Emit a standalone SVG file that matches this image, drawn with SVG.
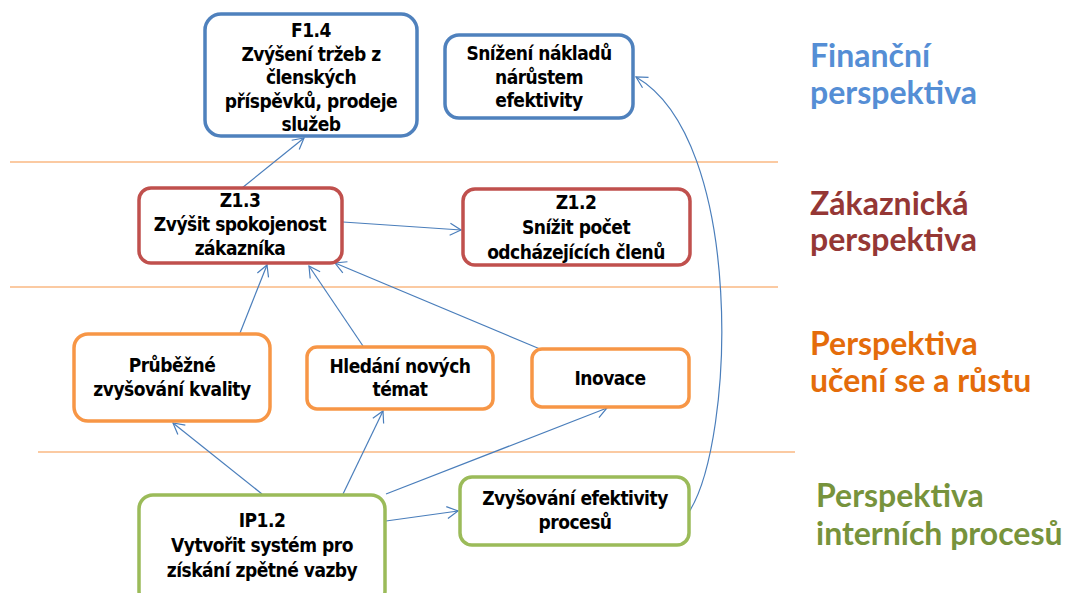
<svg xmlns="http://www.w3.org/2000/svg" width="1072" height="593" viewBox="0 0 1072 593">
  <defs>
    <style>
      .box { fill: #ffffff; stroke-width: 3.5; }
      .fin { stroke: #4f81bd; }
      .cus { stroke: #c0504d; }
      .lrn { stroke: #f79646; }
      .int { stroke: #9bbb59; }
      .t { font-family: "Liberation Sans Narrow", "DejaVu Sans Condensed", "Liberation Sans", sans-serif; font-weight: bold; font-size: 19px; letter-spacing: -0.5px; fill: #000000; text-anchor: middle; }
      .sep { stroke: #f79646; stroke-width: 1.2; }
      .edge { fill: none; stroke: #4a7ebb; stroke-width: 1.2; marker-end: url(#arr); }
      .lbl { font-family: Lato, "Open Sans", sans-serif; font-weight: bold; font-size: 32px; }
    </style>
    <marker id="arr" markerUnits="userSpaceOnUse" markerWidth="14" markerHeight="14" viewBox="0 0 14 14" refX="12" refY="7" orient="auto">
      <path d="M1,1 L12,7 L1,13" fill="none" stroke="#4a7ebb" stroke-width="1.2"/>
    </marker>
  </defs>

  <!-- perspective separators -->
  <g id="separators">
    <line class="sep" x1="10" y1="162" x2="778" y2="162"/>
    <line class="sep" x1="10" y1="287" x2="778" y2="287"/>
    <line class="sep" x1="38" y1="452" x2="795" y2="452"/>
  </g>

  <!-- perspective titles -->
  <g id="titles" class="lbl">
    <text x="810" y="67" fill="#558ed5">Finanční</text>
    <text x="810" y="104" fill="#558ed5">perspektiva</text>
    <text x="810" y="215" fill="#953735">Zákaznická</text>
    <text x="810" y="251" fill="#953735">perspektiva</text>
    <text x="810" y="355" fill="#e46c0a">Perspektiva</text>
    <text x="810" y="392" fill="#e46c0a">učení se a růstu</text>
    <text x="816" y="507" fill="#77933c">Perspektiva</text>
    <text x="816" y="545" fill="#77933c">interních procesů</text>
  </g>

  <!-- connectors -->
  <g id="connectors">
    <line class="edge" x1="242" y1="188" x2="304" y2="138"/>
    <line class="edge" x1="343" y1="222" x2="461" y2="230"/>
    <line class="edge" x1="240" y1="333" x2="267" y2="265"/>
    <line class="edge" x1="363" y1="346" x2="309" y2="266"/>
    <line class="edge" x1="540" y1="349" x2="335" y2="263"/>
    <line class="edge" x1="262" y1="494" x2="173" y2="423"/>
    <line class="edge" x1="343" y1="494" x2="383" y2="411"/>
    <line class="edge" x1="386" y1="494" x2="607" y2="408"/>
    <line class="edge" x1="386" y1="521" x2="458" y2="511"/>
    <path class="edge" d="M689,512 C735,440 745,140 636,77"/>
  </g>

  <!-- financial perspective -->
  <g id="f14">
    <rect class="box fin" x="205" y="14" width="212" height="122" rx="16"/>
    <text class="t" x="311" y="37">F1.4</text>
    <text class="t" x="311" y="61">Zvýšení tržeb z</text>
    <text class="t" x="311" y="84">členských</text>
    <text class="t" x="311" y="108">příspěvků, prodeje</text>
    <text class="t" x="311" y="131">služeb</text>
  </g>
  <g id="snizeni-nakladu">
    <rect class="box fin" x="445" y="35" width="188" height="83" rx="14"/>
    <text class="t" x="539" y="60">Snížení nákladů</text>
    <text class="t" x="539" y="84">nárůstem</text>
    <text class="t" x="539" y="107">efektivity</text>
  </g>

  <!-- customer perspective -->
  <g id="z13">
    <rect class="box cus" x="139" y="188" width="203" height="75" rx="12"/>
    <text class="t" x="240" y="207">Z1.3</text>
    <text class="t" x="240" y="231">Zvýšit spokojenost</text>
    <text class="t" x="240" y="255">zákazníka</text>
  </g>
  <g id="z12">
    <rect class="box cus" x="463" y="189" width="227" height="76" rx="12"/>
    <text class="t" x="576" y="209">Z1.2</text>
    <text class="t" x="576" y="234">Snížit počet</text>
    <text class="t" x="576" y="259">odcházejících členů</text>
  </g>

  <!-- learning and growth perspective -->
  <g id="prubezne">
    <rect class="box lrn" x="74" y="334" width="196" height="87" rx="14"/>
    <text class="t" x="172" y="372">Průběžné</text>
    <text class="t" x="172" y="396">zvyšování kvality</text>
  </g>
  <g id="hledani">
    <rect class="box lrn" x="307" y="347" width="186" height="62" rx="10"/>
    <text class="t" x="400" y="373">Hledání nových</text>
    <text class="t" x="400" y="396">témat</text>
  </g>
  <g id="inovace">
    <rect class="box lrn" x="532" y="349" width="157" height="58" rx="10"/>
    <text class="t" x="610" y="385">Inovace</text>
  </g>

  <!-- internal process perspective -->
  <g id="ip12">
    <rect class="box int" x="139" y="495" width="246" height="110" rx="14"/>
    <text class="t" x="262" y="527">IP1.2</text>
    <text class="t" x="262" y="552">Vytvořit systém pro</text>
    <text class="t" x="262" y="577">získání zpětné vazby</text>
  </g>
  <g id="zvysovani-efektivity">
    <rect class="box int" x="460" y="477" width="229" height="68" rx="12"/>
    <text class="t" x="575" y="505">Zvyšování efektivity</text>
    <text class="t" x="575" y="529">procesů</text>
  </g>
</svg>
